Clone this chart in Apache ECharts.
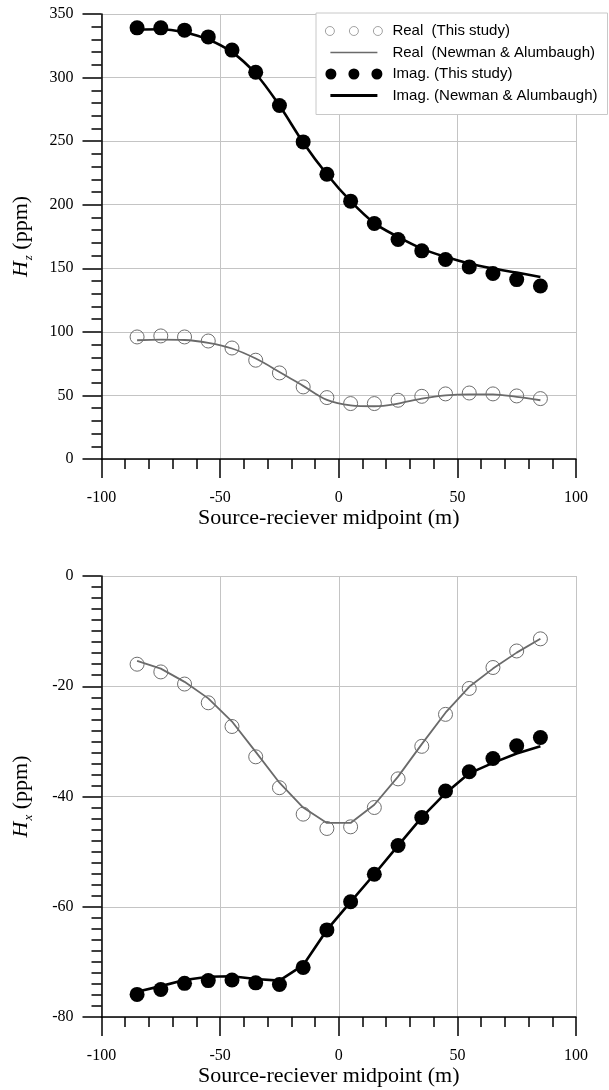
<!DOCTYPE html>
<html>
<head>
<meta charset="utf-8">
<script src="https://cdn.jsdelivr.net/npm/echarts@6/dist/echarts.min.js"></script>
<style>
html,body{margin:0;padding:0;background:#fff;}
#c{width:609px;height:1090px;}
</style>
</head>
<body>
<div id="c"></div>
<script>
// Source-receiver midpoints (m)
var xs = [-85,-75,-65,-55,-45,-35,-25,-15,-5,5,15,25,35,45,55,65,75,85];
// Hz (ppm)
var hzRealStudy = [96.0,96.8,96.0,92.8,87.3,77.7,67.7,56.7,48.3,43.6,43.6,46.2,49.3,51.2,51.9,51.2,49.6,47.5];
var hzRealNA    = [93.4,93.9,93.6,91.3,86.9,79.0,68.5,57.5,46.5,42.2,41.5,43.6,47.5,50.1,50.9,50.9,48.8,46.2];
var hzImagStudy = [339.1,339.1,337.3,332.0,321.6,304.2,278.0,249.4,224.0,202.8,185.2,172.6,163.7,156.9,151.1,145.9,141.1,136.1];
var hzImagNA    = [337.8,338.0,335.5,330.0,320.0,303.0,278.0,249.0,224.0,202.8,185.5,174.7,165.5,159.0,153.7,149.8,146.6,143.2];
// Hx (ppm)
var hxRealStudy = [-16.0,-17.4,-19.6,-23.0,-27.3,-32.8,-38.4,-43.2,-45.8,-45.5,-42.0,-36.8,-30.9,-25.1,-20.4,-16.6,-13.6,-11.4];
var hxRealNA    = [-15.4,-16.8,-19.2,-22.2,-26.4,-31.9,-37.5,-42.0,-44.8,-44.8,-41.5,-36.4,-30.5,-24.8,-20.1,-16.8,-13.9,-11.4];
var hxImagStudy = [-75.9,-75.0,-73.9,-73.4,-73.3,-73.8,-74.1,-71.0,-64.2,-59.1,-54.1,-48.9,-43.8,-39.0,-35.5,-33.1,-30.8,-29.3];
var hxImagNA    = [-75.4,-74.4,-73.3,-72.7,-72.6,-73.1,-73.4,-70.6,-64.2,-59.1,-54.1,-48.9,-43.8,-39.4,-35.8,-33.9,-32.2,-30.9];

var names = ['Real  (This study)','Real  (Newman & Alumbaugh)','Imag. (This study)','Imag. (Newman & Alumbaugh)'];
var xTitle = 'Source-reciever midpoint (m)';

function pairs(ys){ return xs.map(function(x,i){ return [x, ys[i]]; }); }

var serif = 'Liberation Serif, Times New Roman, serif';
var sans = 'Liberation Sans, Arial, sans-serif';

function xAxisOpt(gi){
  return {
    type:'value', gridIndex:gi, min:-100, max:100, interval:50,
    axisLine:{onZero:false, lineStyle:{color:'#000', width:1.5}},
    axisTick:{length:19, lineStyle:{color:'#000', width:1.5}},
    minorTick:{show:true, splitNumber:5, length:10, lineStyle:{color:'#000', width:1.5}},
    splitLine:{show:true, lineStyle:{color:'#c4c4c4', width:1}},
    axisLabel:{margin:31, fontFamily:serif, fontSize:16, color:'#000'},
    name:xTitle, nameLocation:'middle', nameGap:41,
    nameTextStyle:{fontFamily:serif, fontSize:22, color:'#000', padding:[0,20,0,0]}
  };
}
function yAxisOpt(gi, min, max, interval, split, sub){
  return {
    type:'value', gridIndex:gi, min:min, max:max, interval:interval,
    axisLine:{show:true, onZero:false, lineStyle:{color:'#000', width:1.5}},
    axisTick:{show:true, length:19, lineStyle:{color:'#000', width:1.5}},
    minorTick:{show:true, splitNumber:split, length:10, lineStyle:{color:'#000', width:1.5}},
    splitLine:{show:true, lineStyle:{color:'#c4c4c4', width:1}},
    axisLabel:{margin:28, fontFamily:serif, fontSize:16, color:'#000'},
    name:'{i|H}{s|' + sub + '} (ppm)', nameLocation:'middle', nameGap:69,
    nameTextStyle:{fontFamily:serif, fontSize:22, color:'#000',
      rich:{
        i:{fontFamily:serif, fontSize:22, fontStyle:'italic', color:'#000', lineHeight:22},
        s:{fontFamily:serif, fontSize:13, fontStyle:'italic', color:'#000', lineHeight:13, padding:[14,0,0,1]}
      }}
  };
}

var realLine = {color:'#6a6a6a', width:1.8};
var imagLine = {color:'#000', width:2.6};
var openItem = {color:'rgba(0,0,0,0)', borderColor:'#6e6e6e', borderWidth:1, opacity:1};
var fillItem = {color:'#000', opacity:1};

function series(gi, rs, rn, is, inn, smooth){
  return [
    {name:names[1], type:'line', xAxisIndex:gi, yAxisIndex:gi, data:pairs(rn), smooth:smooth, showSymbol:false, symbol:'none', lineStyle:realLine, itemStyle:{color:'#6a6a6a'}, z:2},
    {name:names[3], type:'line', xAxisIndex:gi, yAxisIndex:gi, data:pairs(inn), smooth:smooth, showSymbol:false, symbol:'none', lineStyle:imagLine, itemStyle:{color:'#000'}, z:2},
    {name:names[0], type:'scatter', xAxisIndex:gi, yAxisIndex:gi, data:pairs(rs), symbol:'circle', symbolSize:14, itemStyle:openItem, z:3},
    {name:names[2], type:'scatter', xAxisIndex:gi, yAxisIndex:gi, data:pairs(is), symbol:'circle', symbolSize:15, itemStyle:fillItem, z:4}
  ];
}

function circ(cx, cy, r){
  return 'M' + (cx - r) + ',' + cy + ' A' + r + ',' + r + ' 0 1,1 ' + (cx + r) + ',' + cy + ' A' + r + ',' + r + ' 0 1,1 ' + (cx - r) + ',' + cy + ' Z ';
}
var iconOpen = 'path://M0,0 M57,12 ' + circ(4.5,6,4.5) + circ(28.5,6,4.5) + circ(52.5,6,4.5);
var iconFill = 'path://' + circ(5.5,6,5.5) + circ(28.5,6,5.5) + circ(51.5,6,5.5);
var iconThin = 'path://M0,0 M57,12 M5,5.2 L52,5.2 L52,6.8 L5,6.8 Z';
var iconThick = 'path://M0,0 M57,12 M5,4.6 L52,4.6 L52,7.4 L5,7.4 Z';

var option = {
  animation:false,
  backgroundColor:'#fff',
  grid:[
    {left:96, top:14, width:480, height:445, containLabel:false},
    {left:96, top:576, width:480, height:441, containLabel:false}
  ],
  legend:{
    orient:'vertical', left:316, top:13,
    itemWidth:57, itemHeight:12, itemGap:5.5,
    padding:[10,10,11,9],
    backgroundColor:'#fff', borderColor:'#c8c8c8', borderWidth:1, borderRadius:0,
    textStyle:{fontFamily:sans, fontSize:15, color:'#000', lineHeight:16, padding:[0,0,0,5]},
    selectedMode:false,
    data:[
      {name:names[0], icon:iconOpen, itemStyle:{color:'rgba(0,0,0,0)', borderColor:'#8a8a8a', borderWidth:0.8}},
      {name:names[1], icon:iconThin},
      {name:names[2], icon:iconFill},
      {name:names[3], icon:iconThick}
    ]
  },
  xAxis:[xAxisOpt(0), xAxisOpt(1)],
  yAxis:[yAxisOpt(0, 0, 350, 50, 5, 'z'), yAxisOpt(1, -80, 0, 20, 10, 'x')],
  series: series(0, hzRealStudy, hzRealNA, hzImagStudy, hzImagNA, 0.35)
    .concat(series(1, hxRealStudy, hxRealNA, hxImagStudy, hxImagNA, false))
};

var chart = echarts.init(document.getElementById('c'), null, {renderer:'canvas'});
chart.setOption(option);
</script>
</body>
</html>
